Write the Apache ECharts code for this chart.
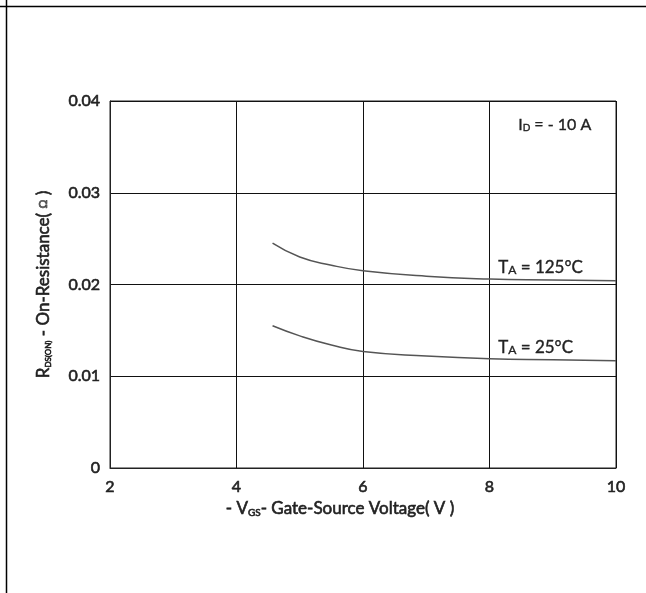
<!DOCTYPE html>
<html><head><meta charset="utf-8">
<script src="https://cdn.jsdelivr.net/npm/echarts@6/dist/echarts.min.js"></script>
<style>html,body{margin:0;padding:0;background:#fff}#c{width:646px;height:593px}</style>
</head><body><div id="c"></div>
<script>
var vgs = [4.57, 5.0, 5.5, 6.0, 7.0, 8.0, 9.0, 10.0];
var r125 = [0.0245, 0.0230, 0.0221, 0.0215, 0.0209, 0.0206, 0.0205, 0.0204];
var r25  = [0.0155, 0.0144, 0.0134, 0.0127, 0.0122, 0.0119, 0.0118, 0.0117];
var xTicks = [2, 4, 6, 8, 10];
var yTicks = [0, 0.01, 0.02, 0.03, 0.04];

function pairs(xs, ys){ return xs.map(function(x,i){return [x, ys[i]];}); }
var font = 'Lato, "Open Sans", sans-serif';
var tc = '#222';
var tb = {textBorderColor: '#222', textBorderWidth: 0.6};
var gs = {stroke: '#222', lineWidth: 0.35};
var chart = echarts.init(document.getElementById('c'));
chart.setOption({
  animation: false,
  backgroundColor: '#fff',
  grid: {left: 110, right: 30, top: 101, bottom: 125, show: true, borderColor: '#222', borderWidth: 1},
  xAxis: {
    type: 'value', min: 2, max: 10, interval: 2,
    axisLine: {show: true, lineStyle: {color: '#222', width: 1}},
    axisTick: {show: false},
    splitLine: {show: true, lineStyle: {color: '#111', width: 1}},
    axisLabel: Object.assign({color: tc, fontSize: 16, fontFamily: font, margin: 11,
      formatter: function(v){ return xTicks.indexOf(v) >= 0 ? String(v) : ''; }}, tb),
    name: '- V{s|GS}- Gate-Source Voltage( V )',
    nameLocation: 'middle', nameGap: 32,
    nameTextStyle: Object.assign({color: tc, fontSize: 17, fontFamily: font, padding: [0, 46, 0, 0],
      rich: {s: Object.assign({fontSize: 10, color: tc, fontFamily: font, verticalAlign: 'bottom', padding: [7,0,0,0]}, tb)}}, tb)
  },
  yAxis: {
    type: 'value', min: 0, max: 0.04, interval: 0.01,
    axisLine: {show: true, lineStyle: {color: '#222', width: 1}},
    axisTick: {show: false},
    splitLine: {show: true, lineStyle: {color: '#111', width: 1}},
    axisLabel: Object.assign({color: tc, fontSize: 16, fontFamily: font, margin: 10,
      formatter: function(v){ var t = yTicks.filter(function(y){return Math.abs(y-v)<1e-9;}); return t.length ? (v===0?'0':v.toFixed(2)) : ''; }}, tb),
    name: 'R{s|DS(ON)} - On-Resistance( {o|Ω} )',
    nameLocation: 'middle', nameGap: 58,
    nameTextStyle: Object.assign({color: tc, fontSize: 17, fontFamily: font,
      rich: {s: {fontSize: 8, color: tc, fontFamily: font, verticalAlign: 'bottom', padding: [7,0,0,0]},
             o: {fontSize: 11, color: '#555', fontFamily: font}}}, tb)
  },
  graphic: [
    {type: 'line', shape: {x1: 0, y1: 6.5, x2: 646, y2: 6.5}, style: {stroke: '#000', lineWidth: 1.5}, z: 100},
    {type: 'line', shape: {x1: 6.5, y1: 0, x2: 6.5, y2: 593}, style: {stroke: '#000', lineWidth: 1.5}, z: 100},
    {type: 'text', left: 518, top: 117, z: 100, style: Object.assign({text: 'I{s|D} = - 10 A', fill: tc, font: '16px ' + font,
      rich: {s: Object.assign({fontSize: 10, fill: tc, fontFamily: font, padding: [6,0,0,0]}, gs)}}, gs)},
    {type: 'text', left: 498, top: 259, z: 100, style: Object.assign({text: 'T{s|A} = 125°C', fill: tc, font: '17px ' + font,
      rich: {s: Object.assign({fontSize: 12, fill: tc, fontFamily: font, padding: [4,0,0,0]}, gs)}}, gs)},
    {type: 'text', left: 498, top: 339, z: 100, style: Object.assign({text: 'T{s|A} = 25°C', fill: tc, font: '17px ' + font,
      rich: {s: Object.assign({fontSize: 12, fill: tc, fontFamily: font, padding: [4,0,0,0]}, gs)}}, gs)}
  ],
  series: [
    {type: 'line', data: pairs(vgs, r125), smooth: true, symbol: 'none', lineStyle: {color: '#555', width: 1.5}},
    {type: 'line', data: pairs(vgs, r25), smooth: true, symbol: 'none', lineStyle: {color: '#555', width: 1.5}}
  ]
});
</script></body></html>
